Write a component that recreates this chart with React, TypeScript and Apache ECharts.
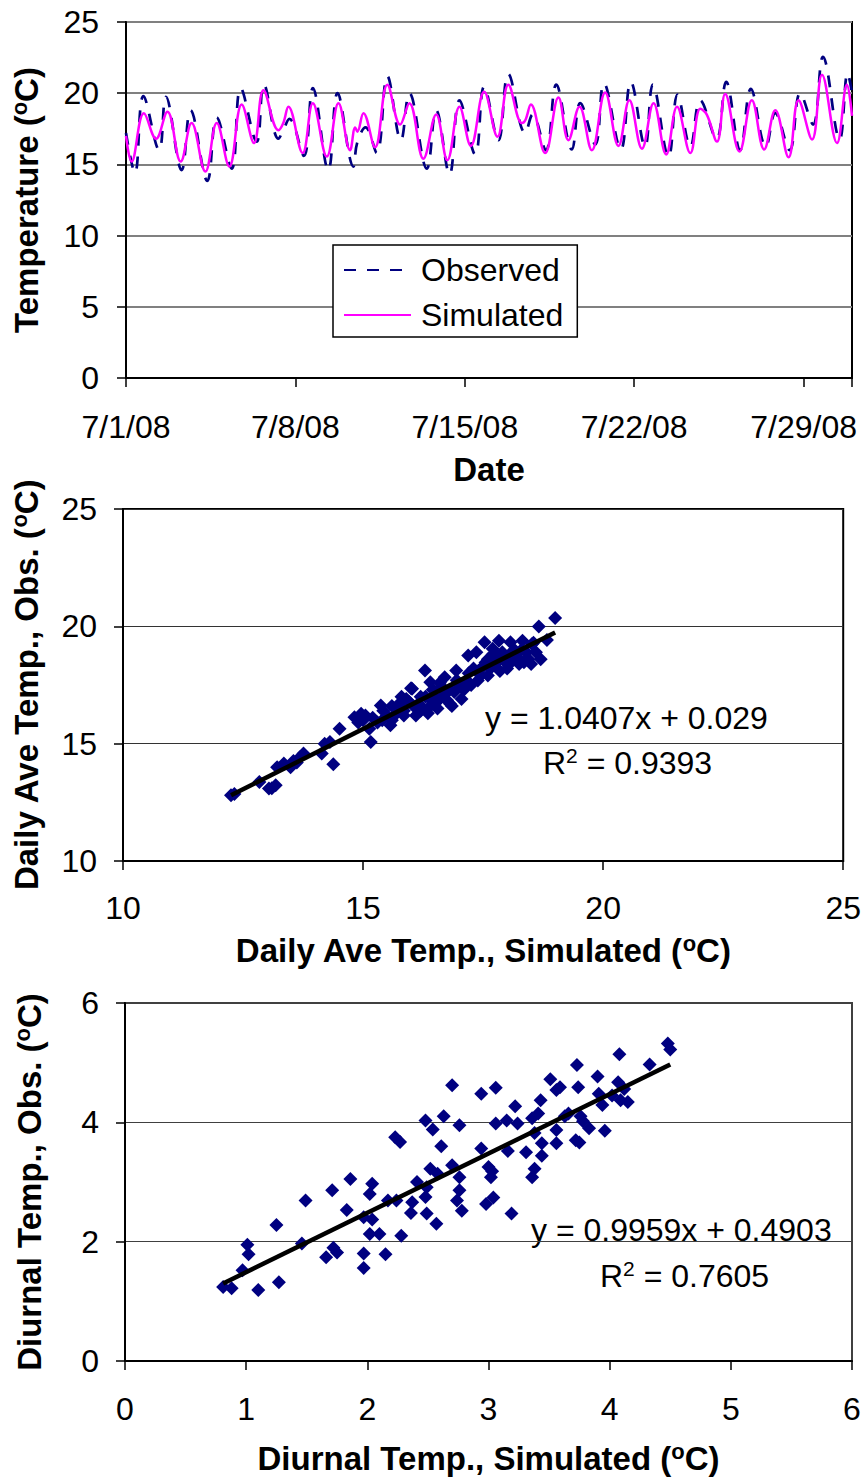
import React, { useEffect, useRef } from 'react';
import * as echarts from 'echarts';

const FONT = "'Liberation Sans', Arial, Helvetica, sans-serif";
const NAVY = '#000080';
const MAGENTA = '#FF00FF';

// ---- Chart 1: temperature series (day offset from 7/1/08) ----
const dateLabels = ['7/1/08', '7/8/08', '7/15/08', '7/22/08', '7/29/08'];

const obsDays = [
  0.0, 0.37, 0.72, 1.37, 1.65, 2.3, 2.67, 3.36, 3.75, 4.37, 4.74, 5.4, 5.7, 6.3, 6.5, 6.75,
  7.35, 7.72, 8.36, 8.74, 9.4, 9.55, 9.9, 10.36, 10.8, 11.36, 11.71, 12.43, 12.82, 13.37,
  13.78, 14.43, 14.8, 15.39, 15.8, 16.5, 16.8, 17.35, 17.78, 18.42, 18.77, 19.39, 19.75,
  20.45, 20.86, 21.45, 21.77, 22.42, 22.79, 23.32, 23.73, 24.4, 24.8, 25.38, 25.82, 26.44,
  26.83, 27.42, 27.86, 28.39, 28.8, 29.49, 29.82, 30.0,
];
const obsTemps = [
  17.2, 14.4, 19.8, 16.0, 19.75, 14.6, 18.8, 13.85, 18.3, 14.7, 20.35, 16.6, 20.6, 16.8, 17.4, 18.2,
  15.6, 20.35, 14.6, 20.0, 14.85, 16.5, 17.6, 15.8, 21.2, 16.7, 20.0, 14.7, 18.8, 14.3,
  19.5, 15.7, 20.45, 16.7, 21.35, 17.2, 18.5, 16.0, 20.6, 16.05, 19.3, 16.4, 20.7,
  16.05, 20.8, 16.25, 20.6, 15.55, 19.9, 16.25, 19.5, 16.8, 20.8, 16.0, 20.3, 16.25,
  18.6, 16.0, 20.0, 17.8, 22.55, 16.75, 21.4, 20.0,
];

const simDays = [
  0.0, 0.23, 0.74, 1.24, 1.71, 2.26, 2.71, 3.28, 3.75, 4.27, 4.78, 5.29, 5.68, 6.3, 6.5, 6.71,
  7.3, 7.72, 8.3, 8.78, 9.26, 9.47, 9.56, 9.81, 10.29, 10.8, 11.33, 11.71, 12.29, 12.82,
  13.28, 13.78, 14.25, 14.8, 15.35, 15.8, 16.36, 16.5, 16.73, 17.32, 17.87, 18.28, 18.74,
  19.25, 19.8, 20.35, 20.8, 21.32, 21.8, 22.32, 22.77, 23.32, 23.73, 24.0, 24.42, 24.76,
  25.35, 25.86, 26.37, 26.83, 27.38, 27.79, 28.35, 28.76, 29.38, 29.79, 30.0,
];
const simTemps = [
  17.0, 15.2, 18.6, 16.8, 18.7, 15.2, 17.9, 14.5, 17.9, 14.85, 19.2, 16.5, 20.2, 17.4, 17.9, 19.05,
  15.8, 19.3, 15.55, 19.3, 16.0, 17.6, 17.3, 18.6, 16.2, 20.6, 17.8, 19.3, 15.4, 18.5,
  15.3, 19.05, 16.3, 20.1, 16.95, 20.6, 17.9, 18.1, 19.2, 15.8, 19.7, 16.7, 19.05,
  16.0, 20.05, 16.3, 19.5, 16.1, 19.3, 15.7, 19.05, 15.8, 18.9, 18.5, 16.6, 19.95,
  15.9, 19.5, 16.05, 18.8, 15.5, 19.5, 16.75, 21.3, 16.5, 20.6, 18.4,
];

// ---- Chart 2: daily average temperature (simulated, observed) ----
const dailySim = [
  12.25, 12.32, 12.84, 13.04, 13.18, 13.1, 13.21, 13.35, 13.49, 13.55, 13.69, 13.76, 13.62,
  14.14, 14.2, 14.31, 14.38, 14.51, 14.82, 14.96, 15.0, 15.13, 15.16, 15.2, 15.37, 15.42,
  15.57, 15.75, 15.85, 15.95, 16.02, 16.05, 19.0, 18.66, 18.83, 18.52, 18.32, 18.35, 18.07,
  18.05, 17.83, 17.9, 17.7, 17.53, 17.55, 17.36, 17.19, 17.3, 17.2, 17.39, 16.94, 16.7, 16.8,
  16.63, 16.4, 16.29, 16.0, 16.3, 16.5, 16.81, 16.4, 16.15, 15.9, 15.85, 16.2, 15.3, 15.5,
  15.6, 15.7, 16.1, 16.25, 16.35, 16.45, 16.55, 16.6, 16.7, 16.75, 16.9, 17.0, 17.05, 17.1,
  17.15, 17.25, 17.4, 17.45, 17.5, 17.6, 17.65, 17.75, 17.8, 17.85, 17.95, 18.0, 18.1, 18.15,
  18.2, 18.25, 18.4, 18.45, 18.5, 18.6, 18.7, 16.85, 16.6, 15.6, 15.4, 14.9, 15.05, 16.95,
  17.6, 17.7, 18.3, 18.55, 16.45, 16.2, 15.8,
];
const dailyObs = [
  12.8, 12.85, 13.37, 13.09, 13.23, 13.1, 14.0, 14.15, 14.0, 14.26, 14.43, 14.58, 14.2,
  14.58, 15.0, 15.07, 14.12, 15.64, 16.13, 16.28, 16.0, 15.64, 15.07, 16.1, 16.63, 16.4,
  15.78, 16.7, 16.2, 16.8, 17.34, 16.6, 20.36, 19.99, 19.42, 19.25, 19.39, 18.47, 19.32,
  18.8, 19.39, 18.9, 19.04, 19.32, 18.46, 18.9, 18.76, 18.2, 18.0, 17.69, 18.12, 17.83, 17.3,
  17.45, 17.62, 18.12, 17.36, 17.0, 17.0, 16.7, 16.6, 16.7, 16.9, 16.4, 16.4, 15.9, 16.2,
  16.0, 16.3, 16.2, 16.5, 16.3, 16.8, 16.5, 16.9, 17.1, 16.85, 17.2, 17.5, 16.9, 17.3,
  17.7, 17.5, 18.1, 17.9, 18.3, 18.6, 18.2, 18.4, 18.7, 18.1, 18.5, 18.2, 18.5, 19.0,
  18.7, 18.4, 18.9, 18.6, 18.4, 18.9, 18.6, 16.6, 17.6, 16.6, 16.0, 15.9, 16.2, 17.7,
  17.9, 18.8, 19.0, 19.3, 17.3, 17.0, 17.0,
];
const dailyFitX = [12.25, 19.0];
const dailyFitY = [12.8, 19.74];

// ---- Chart 3: diurnal temperature range (simulated, observed) ----
const diurnalSim = [
  0.81, 0.88, 0.97, 1.02, 1.01, 1.1, 1.27, 1.25, 1.46, 1.49, 1.66, 1.72, 1.75, 1.71, 1.83,
  1.86, 1.97, 1.97, 1.97, 2.04, 2.02, 2.04, 2.02, 2.1, 2.15, 2.17, 2.24, 2.23, 2.27, 2.28,
  2.37, 2.36, 2.41, 2.48, 2.54, 2.61, 2.63, 2.7, 2.76, 2.49, 2.52, 2.48, 2.49, 2.57, 2.58,
  2.7, 2.76, 2.76, 2.74, 2.78, 2.94, 3.06, 2.94, 3.0, 3.03, 3.02, 2.98, 3.04, 3.06, 3.15,
  3.16, 3.22, 3.19, 3.24, 3.31, 3.36, 3.41, 3.43, 3.38, 3.38, 3.36, 3.44, 3.44, 3.51, 3.56,
  3.59, 3.56, 3.56, 3.63, 3.66, 3.73, 3.74, 3.72, 3.75, 3.76, 3.78, 3.83, 3.9, 3.91, 3.94,
  3.96, 4.02, 4.07, 4.08, 4.09, 4.12, 4.15, 4.33, 4.48, 4.5,
];
const diurnalObs = [
  1.24, 1.22, 1.52, 1.79, 1.95, 1.19, 1.32, 2.28, 1.97, 2.69, 1.74, 1.9, 1.82, 2.86, 2.53,
  3.05, 1.8, 1.56, 2.41, 2.97, 2.8, 2.37, 2.13, 2.13, 1.79, 2.69, 2.69, 3.75, 3.67, 2.1,
  2.66, 2.48, 3.0, 4.03, 3.88, 3.6, 4.1, 4.62, 3.95, 2.91, 3.22, 2.75, 2.47, 2.3, 3.14,
  3.28, 3.08, 2.86, 2.69, 2.52, 4.48, 4.58, 3.56, 3.25, 3.18, 3.08, 2.63, 2.74, 3.98, 4.03,
  3.52, 4.27, 2.47, 3.98, 3.5, 4.07, 4.15, 4.37, 3.82, 3.22, 3.08, 3.44, 3.65, 4.72, 4.54,
  4.59, 3.87, 3.65, 4.1, 4.15, 4.96, 4.59, 3.7, 3.66, 4.1, 4.02, 3.9, 4.77, 4.48, 4.29,
  3.86, 4.45, 4.67, 5.14, 4.37, 4.56, 4.34, 4.97, 5.32, 5.22,
];
const diurnalFitX = [0.81, 4.5];
const diurnalFitY = [1.3, 4.97];

const zip = (a: number[], b: number[]) => a.map((v, i) => [v, b[i]]);

const supRich = {
  sup: {
    fontSize: 22,
    fontWeight: 'bold' as const,
    fontFamily: FONT,
    color: '#000',
    lineHeight: 14,
    verticalAlign: 'top' as const,
  },
};

const nameStyle = {
  fontSize: 33,
  fontWeight: 'bold' as const,
  fontFamily: FONT,
  color: '#000',
  lineHeight: 36,
  rich: supRich,
};

const labelStyle = (margin: number) => ({
  fontSize: 32,
  fontFamily: FONT,
  color: '#000',
  margin,
});

const axisLine = { show: true, onZero: false, lineStyle: { color: '#000', width: 2 } };
const axisTick = { show: true, inside: false, length: 9, lineStyle: { color: '#000', width: 1.5 } };

const supText = { fontSize: 21, fontFamily: FONT, fill: '#000', lineHeight: 14, verticalAlign: 'top' as const };

export default function App() {
  const ref = useRef<HTMLDivElement>(null);

  useEffect(() => {
    if (!ref.current) return;
    const chart = echarts.init(ref.current, undefined, { renderer: 'svg' });

    const option: any = {
      animation: false,
      backgroundColor: '#fff',
      textStyle: { fontFamily: FONT },
      grid: [
        { left: 126, top: 22, width: 726, height: 356, show: true, borderColor: '#000', borderWidth: 2, backgroundColor: 'transparent' },
        { left: 123, top: 509, width: 729, height: 352, show: true, borderColor: '#000', borderWidth: 2, backgroundColor: 'transparent' },
        { left: 125, top: 1003, width: 727, height: 358, show: true, borderColor: '#404040', borderWidth: 2, backgroundColor: 'transparent' },
      ],
      xAxis: [
        {
          gridIndex: 0,
          type: 'value',
          min: 0,
          max: 30,
          interval: 7,
          axisLine,
          axisTick,
          splitLine: { show: false },
          axisLabel: {
            ...labelStyle(33),
            formatter: (v: number) => (v % 7 === 0 ? dateLabels[v / 7] ?? '' : ''),
          },
          name: 'Date',
          nameLocation: 'middle',
          nameGap: 73,
          nameTextStyle: nameStyle,
        },
        {
          gridIndex: 1,
          type: 'value',
          min: 10,
          max: 25,
          interval: 5,
          axisLine,
          axisTick,
          splitLine: { show: false },
          axisLabel: labelStyle(31),
          name: 'Daily Ave Temp., Simulated ({sup|o}C)',
          nameLocation: 'middle',
          nameGap: 71,
          nameTextStyle: nameStyle,
        },
        {
          gridIndex: 2,
          type: 'value',
          min: 0,
          max: 6,
          interval: 1,
          axisLine,
          axisTick,
          splitLine: { show: false },
          axisLabel: labelStyle(32),
          name: 'Diurnal Temp., Simulated ({sup|o}C)',
          nameLocation: 'middle',
          nameGap: 79,
          nameTextStyle: nameStyle,
        },
      ],
      yAxis: [
        {
          gridIndex: 0,
          type: 'value',
          min: 0,
          max: 25,
          interval: 5,
          axisLine,
          axisTick,
          splitLine: { show: true, lineStyle: { color: '#808080', width: 2 } },
          axisLabel: labelStyle(27),
          name: 'Temperature ({sup|o}C)',
          nameLocation: 'middle',
          nameGap: 82,
          nameTextStyle: nameStyle,
        },
        {
          gridIndex: 1,
          type: 'value',
          min: 10,
          max: 25,
          interval: 5,
          axisLine,
          axisTick,
          splitLine: { show: true, lineStyle: { color: '#333', width: 1.2 } },
          axisLabel: labelStyle(26),
          name: 'Daily Ave Temp., Obs. ({sup|o}C)',
          nameLocation: 'middle',
          nameGap: 79,
          nameTextStyle: nameStyle,
        },
        {
          gridIndex: 2,
          type: 'value',
          min: 0,
          max: 6,
          interval: 2,
          axisLine,
          axisTick,
          splitLine: { show: true, lineStyle: { color: '#404040', width: 1.2 } },
          axisLabel: labelStyle(26),
          name: 'Diurnal Temp., Obs. ({sup|o}C)',
          nameLocation: 'middle',
          nameGap: 78,
          nameTextStyle: nameStyle,
        },
      ],
      legend: {
        data: ['Observed', 'Simulated'],
        orient: 'vertical',
        left: 333,
        top: 245,
        padding: [9, 14, 6, 10],
        itemWidth: 67,
        itemHeight: 14,
        itemGap: 13,
        backgroundColor: '#fff',
        borderColor: '#000',
        borderWidth: 1.5,
        itemStyle: { opacity: 0 },
        textStyle: { fontSize: 32, fontFamily: FONT, color: '#000', padding: [0, 0, 0, 5] },
      },
      series: [
        {
          name: 'Observed',
          type: 'line',
          xAxisIndex: 0,
          yAxisIndex: 0,
          data: zip(obsDays, obsTemps),
          smooth: 0.4,
          symbol: 'none',
          lineStyle: { color: NAVY, width: 2.7, type: [12, 11] },
          itemStyle: { color: NAVY },
          silent: true,
        },
        {
          name: 'Simulated',
          type: 'line',
          xAxisIndex: 0,
          yAxisIndex: 0,
          data: zip(simDays, simTemps),
          smooth: 0.4,
          symbol: 'none',
          lineStyle: { color: MAGENTA, width: 2.5 },
          itemStyle: { color: MAGENTA },
          silent: true,
        },
        {
          name: 'DailyPts',
          type: 'scatter',
          xAxisIndex: 1,
          yAxisIndex: 1,
          data: zip(dailySim, dailyObs),
          symbol: 'diamond',
          symbolSize: 14,
          itemStyle: { color: NAVY, opacity: 1 },
          silent: true,
        },
        {
          name: 'DailyFit',
          type: 'line',
          xAxisIndex: 1,
          yAxisIndex: 1,
          data: zip(dailyFitX, dailyFitY),
          symbol: 'none',
          lineStyle: { color: '#000', width: 4.5 },
          silent: true,
        },
        {
          name: 'DiurnalPts',
          type: 'scatter',
          xAxisIndex: 2,
          yAxisIndex: 2,
          data: zip(diurnalSim, diurnalObs),
          symbol: 'diamond',
          symbolSize: 14,
          itemStyle: { color: NAVY, opacity: 1 },
          silent: true,
        },
        {
          name: 'DiurnalFit',
          type: 'line',
          xAxisIndex: 2,
          yAxisIndex: 2,
          data: zip(diurnalFitX, diurnalFitY),
          symbol: 'none',
          lineStyle: { color: '#000', width: 4.5 },
          silent: true,
        },
      ],
      graphic: [
        {
          type: 'text',
          x: 485,
          y: 718,
          style: { text: 'y = 1.0407x + 0.029', fontSize: 32, fontFamily: FONT, fill: '#000', align: 'left', verticalAlign: 'middle' },
        },
        {
          type: 'text',
          x: 543,
          y: 763,
          style: {
            text: 'R{s|2} = 0.9393',
            fontSize: 32,
            fontFamily: FONT,
            fill: '#000',
            align: 'left',
            verticalAlign: 'middle',
            lineHeight: 36,
            rich: { s: supText },
          },
        },
        {
          type: 'text',
          x: 531,
          y: 1230,
          style: { text: 'y = 0.9959x + 0.4903', fontSize: 32, fontFamily: FONT, fill: '#000', align: 'left', verticalAlign: 'middle' },
        },
        {
          type: 'text',
          x: 600,
          y: 1276,
          style: {
            text: 'R{s|2} = 0.7605',
            fontSize: 32,
            fontFamily: FONT,
            fill: '#000',
            align: 'left',
            verticalAlign: 'middle',
            lineHeight: 36,
            rich: { s: supText },
          },
        },
      ],
    };

    chart.setOption(option);
    return () => chart.dispose();
  }, []);

  return (
    <div
      ref={ref}
      style={{ position: 'absolute', left: 0, top: 0, width: 864, height: 1479, background: '#fff' }}
    />
  );
}
